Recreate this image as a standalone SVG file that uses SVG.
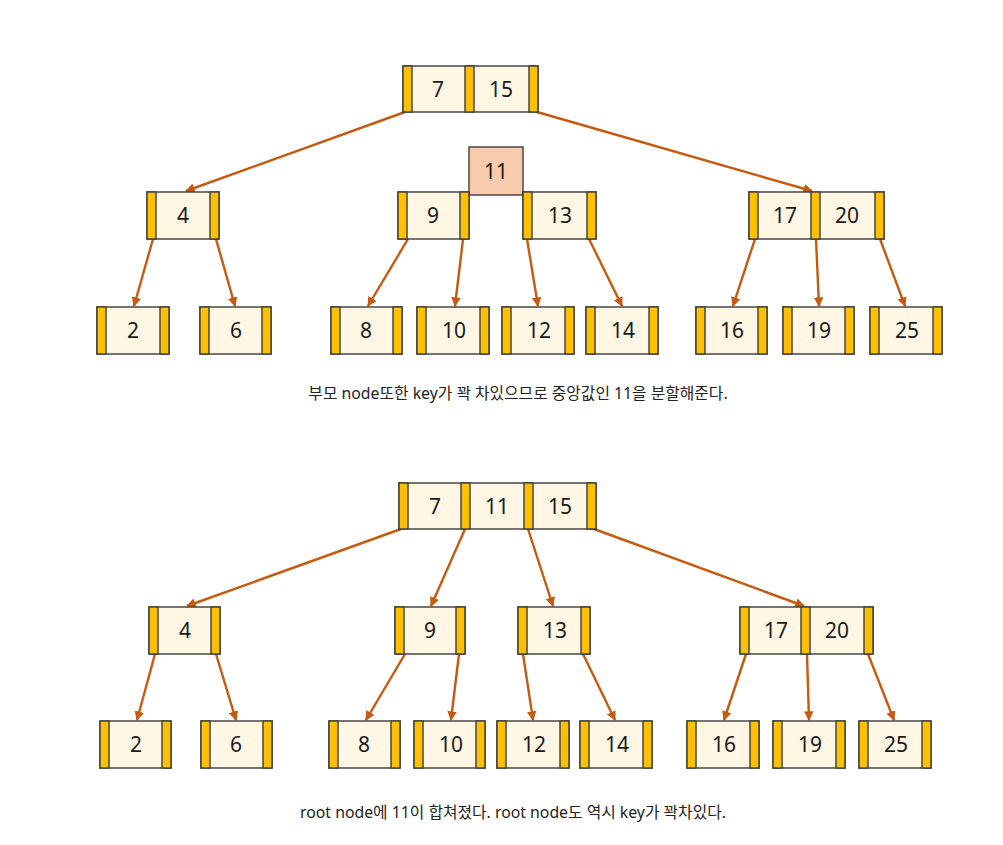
<svg xmlns="http://www.w3.org/2000/svg" width="1003" height="845" viewBox="0 0 1003 845">
<style>
.cell{fill:#FFF6E4;stroke:#3c3c3c;stroke-width:1.4}
.bar{fill:#FFC000;stroke:#3c3c3c;stroke-width:1.4}
.split{fill:#F8CBAD;stroke:#3c3c3c;stroke-width:1.4}
.k{font-family:"Noto Sans","Open Sans",sans-serif;font-size:21px;fill:#1a1a1a;text-anchor:middle}
.cap{font-family:"Noto Sans","Noto Sans CJK KR",sans-serif;font-size:15.8px;fill:#222;text-anchor:middle}
.e{stroke:#C55A11;stroke-width:2.4;fill:none;marker-end:url(#ah)}
</style>
<defs>
<marker id="ah" viewBox="0 0 10 10" refX="9" refY="5" markerWidth="4" markerHeight="4" orient="auto" markerUnits="strokeWidth">
<path d="M0,0 L10,5 L0,10 z" fill="#C55A11"/>
</marker>
</defs>
<rect width="1003" height="845" fill="#ffffff"/>

<g id="connectors">
<line class="e" x1="405" y1="112" x2="186" y2="191"/>
<line class="e" x1="537" y1="112" x2="812" y2="191"/>
<line class="e" x1="153" y1="239" x2="134" y2="306"/>
<line class="e" x1="216" y1="239" x2="235" y2="306"/>
<line class="e" x1="408" y1="239" x2="368" y2="306"/>
<line class="e" x1="463" y1="239" x2="455" y2="306"/>
<line class="e" x1="527" y1="239" x2="538" y2="306"/>
<line class="e" x1="589" y1="239" x2="622" y2="306"/>
<line class="e" x1="755" y1="239" x2="733" y2="306"/>
<line class="e" x1="816" y1="239" x2="819" y2="306"/>
<line class="e" x1="880" y1="239" x2="905" y2="306"/>

<line class="e" x1="401" y1="529" x2="187" y2="606"/>
<line class="e" x1="465" y1="529" x2="431" y2="606"/>
<line class="e" x1="528" y1="529" x2="553" y2="606"/>
<line class="e" x1="594" y1="529" x2="804" y2="606"/>
<line class="e" x1="155" y1="654" x2="137" y2="720"/>
<line class="e" x1="216" y1="654" x2="236" y2="720"/>
<line class="e" x1="405" y1="654" x2="366" y2="720"/>
<line class="e" x1="459" y1="654" x2="451" y2="720"/>
<line class="e" x1="523" y1="654" x2="533" y2="720"/>
<line class="e" x1="583" y1="654" x2="615" y2="720"/>
<line class="e" x1="746" y1="654" x2="724" y2="720"/>
<line class="e" x1="807" y1="654" x2="809" y2="720"/>
<line class="e" x1="868" y1="654" x2="894" y2="720"/>
</g>

<!-- Tree 1 -->
<g id="t1-root">
<rect class="cell" x="403" y="66" width="135" height="46"/>
<rect class="bar" x="403" y="66" width="9" height="46"/>
<rect class="bar" x="465" y="66" width="9" height="46"/>
<rect class="bar" x="529" y="66" width="9" height="46"/>
<text class="k" x="438" y="97">7</text>
<text class="k" x="501" y="97">15</text>
</g>
<g id="t1-split11">
<rect class="split" x="469" y="147" width="54" height="48"/>
<text class="k" x="496" y="179">11</text>
</g>
<g id="t1-n4">
<rect class="cell" x="147" y="192" width="72" height="47"/>
<rect class="bar" x="147" y="192" width="9" height="47"/>
<rect class="bar" x="210" y="192" width="9" height="47"/>
<text class="k" x="183" y="223">4</text>
</g>
<g id="t1-n9">
<rect class="cell" x="398" y="192" width="71" height="47"/>
<rect class="bar" x="398" y="192" width="9" height="47"/>
<rect class="bar" x="460" y="192" width="9" height="47"/>
<text class="k" x="433" y="223">9</text>
</g>
<g id="t1-n13">
<rect class="cell" x="523" y="192" width="73" height="47"/>
<rect class="bar" x="523" y="192" width="9" height="47"/>
<rect class="bar" x="587" y="192" width="9" height="47"/>
<text class="k" x="560" y="223">13</text>
</g>
<g id="t1-n17-20">
<rect class="cell" x="749" y="192" width="135" height="47"/>
<rect class="bar" x="749" y="192" width="9" height="47"/>
<rect class="bar" x="811" y="192" width="9" height="47"/>
<rect class="bar" x="875" y="192" width="9" height="47"/>
<text class="k" x="785" y="223">17</text>
<text class="k" x="847" y="223">20</text>
</g>

<g id="t1-l2"><rect class="cell" x="97" y="307" width="72" height="47"/><rect class="bar" x="97" y="307" width="9" height="47"/><rect class="bar" x="160" y="307" width="9" height="47"/><text class="k" x="133" y="338">2</text></g>
<g id="t1-l6"><rect class="cell" x="200" y="307" width="71" height="47"/><rect class="bar" x="200" y="307" width="9" height="47"/><rect class="bar" x="262" y="307" width="9" height="47"/><text class="k" x="236" y="338">6</text></g>
<g id="t1-l8"><rect class="cell" x="331" y="307" width="71" height="47"/><rect class="bar" x="331" y="307" width="9" height="47"/><rect class="bar" x="393" y="307" width="9" height="47"/><text class="k" x="366" y="338">8</text></g>
<g id="t1-l10"><rect class="cell" x="417" y="307" width="72" height="47"/><rect class="bar" x="417" y="307" width="9" height="47"/><rect class="bar" x="480" y="307" width="9" height="47"/><text class="k" x="454" y="338">10</text></g>
<g id="t1-l12"><rect class="cell" x="502" y="307" width="72" height="47"/><rect class="bar" x="502" y="307" width="9" height="47"/><rect class="bar" x="565" y="307" width="9" height="47"/><text class="k" x="539" y="338">12</text></g>
<g id="t1-l14"><rect class="cell" x="586" y="307" width="72" height="47"/><rect class="bar" x="586" y="307" width="9" height="47"/><rect class="bar" x="649" y="307" width="9" height="47"/><text class="k" x="623" y="338">14</text></g>
<g id="t1-l16"><rect class="cell" x="696" y="307" width="71" height="47"/><rect class="bar" x="696" y="307" width="9" height="47"/><rect class="bar" x="758" y="307" width="9" height="47"/><text class="k" x="732" y="338">16</text></g>
<g id="t1-l19"><rect class="cell" x="783" y="307" width="71" height="47"/><rect class="bar" x="783" y="307" width="9" height="47"/><rect class="bar" x="845" y="307" width="9" height="47"/><text class="k" x="819" y="338">19</text></g>
<g id="t1-l25"><rect class="cell" x="870" y="307" width="72" height="47"/><rect class="bar" x="870" y="307" width="9" height="47"/><rect class="bar" x="933" y="307" width="9" height="47"/><text class="k" x="907" y="338">25</text></g>

<g id="caption1"><text class="cap" x="518" y="399">부모 node또한 key가 꽉 차있으므로 중앙값인 11을 분할해준다.</text></g>

<!-- Tree 2 -->
<g id="t2-root">
<rect class="cell" x="399" y="483" width="197" height="46"/>
<rect class="bar" x="399" y="483" width="9" height="46"/>
<rect class="bar" x="461" y="483" width="9" height="46"/>
<rect class="bar" x="524" y="483" width="9" height="46"/>
<rect class="bar" x="587" y="483" width="9" height="46"/>
<text class="k" x="435" y="514">7</text>
<text class="k" x="497" y="514">11</text>
<text class="k" x="560" y="514">15</text>
</g>
<g id="t2-n4">
<rect class="cell" x="149" y="607" width="71" height="47"/>
<rect class="bar" x="149" y="607" width="9" height="47"/>
<rect class="bar" x="211" y="607" width="9" height="47"/>
<text class="k" x="185" y="638">4</text>
</g>
<g id="t2-n9">
<rect class="cell" x="395" y="607" width="70" height="47"/>
<rect class="bar" x="395" y="607" width="9" height="47"/>
<rect class="bar" x="456" y="607" width="9" height="47"/>
<text class="k" x="430" y="638">9</text>
</g>
<g id="t2-n13">
<rect class="cell" x="518" y="607" width="72" height="47"/>
<rect class="bar" x="518" y="607" width="9" height="47"/>
<rect class="bar" x="581" y="607" width="9" height="47"/>
<text class="k" x="555" y="638">13</text>
</g>
<g id="t2-n17-20">
<rect class="cell" x="740" y="607" width="133" height="47"/>
<rect class="bar" x="740" y="607" width="9" height="47"/>
<rect class="bar" x="801" y="607" width="9" height="47"/>
<rect class="bar" x="864" y="607" width="9" height="47"/>
<text class="k" x="776" y="638">17</text>
<text class="k" x="837" y="638">20</text>
</g>

<g id="t2-l2"><rect class="cell" x="100" y="721" width="71" height="47"/><rect class="bar" x="100" y="721" width="9" height="47"/><rect class="bar" x="162" y="721" width="9" height="47"/><text class="k" x="136" y="752">2</text></g>
<g id="t2-l6"><rect class="cell" x="201" y="721" width="71" height="47"/><rect class="bar" x="201" y="721" width="9" height="47"/><rect class="bar" x="263" y="721" width="9" height="47"/><text class="k" x="236" y="752">6</text></g>
<g id="t2-l8"><rect class="cell" x="329" y="721" width="71" height="47"/><rect class="bar" x="329" y="721" width="9" height="47"/><rect class="bar" x="391" y="721" width="9" height="47"/><text class="k" x="364" y="752">8</text></g>
<g id="t2-l10"><rect class="cell" x="414" y="721" width="71" height="47"/><rect class="bar" x="414" y="721" width="9" height="47"/><rect class="bar" x="476" y="721" width="9" height="47"/><text class="k" x="451" y="752">10</text></g>
<g id="t2-l12"><rect class="cell" x="497" y="721" width="72" height="47"/><rect class="bar" x="497" y="721" width="9" height="47"/><rect class="bar" x="560" y="721" width="9" height="47"/><text class="k" x="534" y="752">12</text></g>
<g id="t2-l14"><rect class="cell" x="580" y="721" width="72" height="47"/><rect class="bar" x="580" y="721" width="9" height="47"/><rect class="bar" x="643" y="721" width="9" height="47"/><text class="k" x="617" y="752">14</text></g>
<g id="t2-l16"><rect class="cell" x="687" y="721" width="72" height="47"/><rect class="bar" x="687" y="721" width="9" height="47"/><rect class="bar" x="750" y="721" width="9" height="47"/><text class="k" x="724" y="752">16</text></g>
<g id="t2-l19"><rect class="cell" x="773" y="721" width="72" height="47"/><rect class="bar" x="773" y="721" width="9" height="47"/><rect class="bar" x="836" y="721" width="9" height="47"/><text class="k" x="810" y="752">19</text></g>
<g id="t2-l25"><rect class="cell" x="859" y="721" width="72" height="47"/><rect class="bar" x="859" y="721" width="9" height="47"/><rect class="bar" x="922" y="721" width="9" height="47"/><text class="k" x="896" y="752">25</text></g>

<g id="caption2"><text class="cap" x="513" y="818">root node에 11이 합쳐졌다. root node도 역시 key가 꽉차있다.</text></g>
</svg>
